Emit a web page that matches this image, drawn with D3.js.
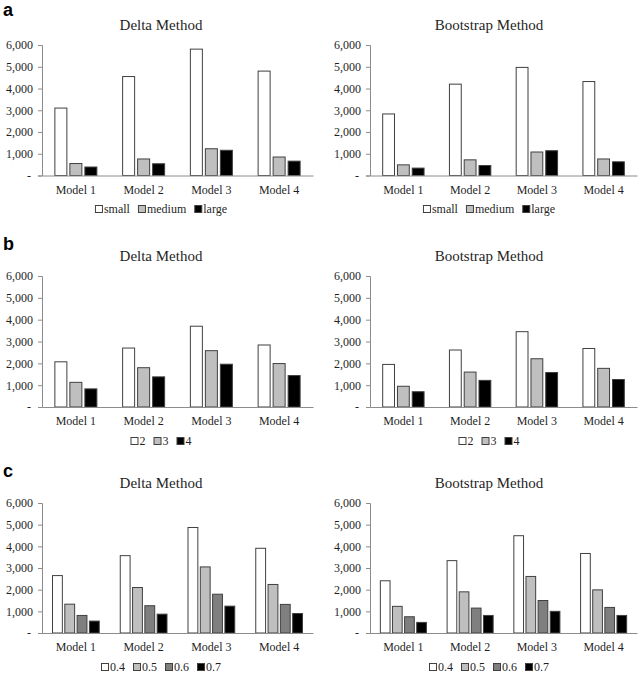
<!DOCTYPE html>
<html><head><meta charset="utf-8">
<script src="https://cdn.jsdelivr.net/npm/d3@7"></script>
<style>
html,body{margin:0;padding:0;background:#fff;}
svg{display:block;}
svg text{font-family:'Liberation Serif','Times New Roman',serif;}
svg text.letter{font-family:'Liberation Sans',Arial,sans-serif;font-weight:bold;}
</style></head>
<body><svg id="chart" width="644" height="675"></svg>
<script>
// ---- data ----
const models = ["Model 1", "Model 2", "Model 3", "Model 4"];
const yTickValues = [0, 1000, 2000, 3000, 4000, 5000, 6000];
const methods = ["Delta Method", "Bootstrap Method"];
const panelLetters = ["a", "b", "c"];

const seriesA = ["small", "medium", "large"];
const aDelta = [[3100, 4550, 5810, 4800], [550, 760, 1230, 850], [390, 540, 1160, 660]];
const aBoot  = [[2830, 4200, 4970, 4320], [490, 720, 1080, 760], [340, 460, 1140, 630]];

const seriesB = ["2", "3", "4"];
const bDelta = [[2070, 2700, 3700, 2840], [1130, 1800, 2580, 1990], [830, 1380, 1960, 1440]];
const bBoot  = [[1950, 2610, 3450, 2680], [950, 1600, 2210, 1770], [700, 1220, 1580, 1260]];

const seriesC = ["0.4", "0.5", "0.6", "0.7"];
const cDelta = [[2650, 3570, 4870, 3910], [1330, 2100, 3050, 2240], [810, 1260, 1790, 1320], [550, 870, 1240, 900]];
const cBoot  = [[2410, 3340, 4490, 3670], [1230, 1900, 2610, 1990], [750, 1150, 1500, 1180], [490, 810, 1000, 810]];

const fills3 = ["#ffffff", "#bfbfbf", "#000000"];
const fills4 = ["#ffffff", "#bfbfbf", "#7f7f7f", "#000000"];

// ---- layout ----
const serif = "'Liberation Serif','Times New Roman',serif";
const rows = [
  {series: seriesA, fills: fills3, data: [aDelta, aBoot], yTop: 45, yBot: 175.5, titleY: 29.5, catY: 194, legY: 213, letterY: 16, groupFrac: 0.62},
  {series: seriesB, fills: fills3, data: [bDelta, bBoot], yTop: 276, yBot: 407, titleY: 261, catY: 425, legY: 445, letterY: 250, groupFrac: 0.62},
  {series: seriesC, fills: fills4, data: [cDelta, cBoot], yTop: 503, yBot: 633, titleY: 487.5, catY: 651, legY: 671, letterY: 477, groupFrac: 0.69}
];
const cols = [
  {x0: 42, x1: 313, center: 161},
  {x0: 370, x1: 637, center: 489}
];

const svg = d3.select("#chart");
const textCol = "#1f1f1f";
const axisCol = "#8c8c8c";

rows.forEach((row, ri) => {
  svg.append("text")
    .attr("class", "letter")
    .attr("x", 3).attr("y", row.letterY)
    .style("font-size", "18px")
    .attr("fill", "#000")
    .text(panelLetters[ri]);

  cols.forEach((col, ci) => {
    const g = svg.append("g");
    const y = d3.scaleLinear().domain([0, 6000]).range([row.yBot, row.yTop]);
    const x0 = d3.scaleBand().domain(models).range([col.x0, col.x1]).padding(0);
    const gw = x0.bandwidth() * row.groupFrac;
    const x1 = d3.scaleBand().domain(row.series).range([0, gw]).paddingInner(0.2).paddingOuter(0);

    // title
    g.append("text")
      .attr("x", col.center).attr("y", row.titleY)
      .attr("text-anchor", "middle")
      .style("font-family", serif).style("font-size", "15px")
      .attr("fill", textCol)
      .text(methods[ci]);

    // y axis
    const yAxis = d3.axisLeft(y).tickValues(yTickValues).tickSize(4).tickPadding(5)
      .tickFormat(d => d === 0 ? "-" : d3.format(",")(d));
    const ga = g.append("g").attr("transform", `translate(${col.x0},0)`).call(yAxis);
    ga.attr("font-family", null).attr("font-size", null);
    ga.select(".domain").attr("stroke", axisCol).attr("stroke-width", 1);
    ga.selectAll(".tick line").attr("stroke", axisCol);
    ga.selectAll(".tick text").style("font-family", serif).style("font-size", "12px").attr("fill", textCol);
    ga.selectAll(".tick text").filter(d => d === 0).attr("dx", -2);

    // bars
    const data = row.data[ci];
    row.series.forEach((s, si) => {
      g.append("g").selectAll("rect")
        .data(models.map((m, mi) => ({m, v: data[si][mi]})))
        .join("rect")
        .attr("x", d => x0(d.m) + (x0.bandwidth() - gw) / 2 + x1(s))
        .attr("y", d => y(d.v))
        .attr("width", x1.bandwidth())
        .attr("height", d => y(0) - y(d.v))
        .attr("fill", row.fills[si])
        .attr("stroke", "#404040")
        .attr("stroke-width", 1);
    });

    // x axis
    const xAxis = d3.axisBottom(x0).tickSize(0).tickPadding(8);
    const gx = g.append("g").attr("transform", `translate(0,${row.yBot})`).call(xAxis);
    gx.select(".domain").attr("stroke", axisCol).attr("stroke-width", 1);
    gx.selectAll(".tick text").remove();
    g.selectAll(".cat").data(models).join("text")
      .attr("class", "cat")
      .attr("x", d => x0(d) + x0.bandwidth() / 2)
      .attr("y", row.catY)
      .attr("text-anchor", "middle")
      .style("font-family", serif).style("font-size", "12px")
      .attr("fill", textCol)
      .text(d => d);

    // legend
    const lg = g.append("g");
    let cx = 0;
    row.series.forEach((s, si) => {
      const it = lg.append("g").attr("transform", `translate(${cx},0)`);
      it.append("rect").attr("x", 0.5).attr("y", -7.5).attr("width", 7).attr("height", 7)
        .attr("fill", row.fills[si]).attr("stroke", "#404040").attr("stroke-width", 1);
      const t = it.append("text").attr("x", 9).attr("y", 0)
        .style("font-family", serif).style("font-size", "12px").attr("fill", textCol).text(s);
      const w = 9 + t.node().getComputedTextLength();
      cx += w + 8;
    });
    const total = cx - 8;
    lg.attr("transform", `translate(${col.center - total / 2},${row.legY})`);
  });
});
</script>
</body></html>
